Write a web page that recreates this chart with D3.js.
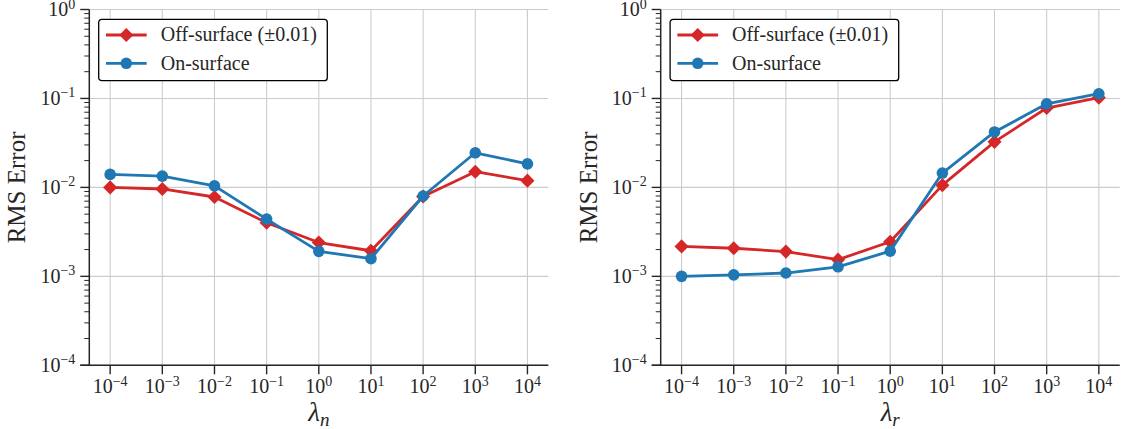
<!DOCTYPE html>
<html>
<head>
<meta charset="utf-8">
<script src="https://cdn.jsdelivr.net/npm/d3@7"></script>
<style>
  body { margin: 0; background: #fff; }
  svg text { font-family: "Liberation Serif", "DejaVu Serif", serif; fill: #262626; }
</style>
</head>
<body>
<svg id="chart" width="1122" height="429"></svg>
<script>
// exponents of lambda (x axis is log10 lambda)
var exponents = [-4, -3, -2, -1, 0, 1, 2, 3, 4];

// left panel: lambda_n
var offN = [0.0100, 0.0096, 0.0078, 0.0040, 0.0024, 0.00194, 0.0079, 0.0150, 0.0119];
var onN  = [0.0140, 0.0134, 0.0104, 0.0044, 0.00191, 0.00158, 0.0080, 0.0245, 0.0184];

// right panel: lambda_r
var offR = [0.00217, 0.00207, 0.00190, 0.00154, 0.00245, 0.0106, 0.0325, 0.078, 0.102];
var onR  = [0.00100, 0.00104, 0.00109, 0.00128, 0.00192, 0.0145, 0.0420, 0.087, 0.113];

var yTickExps = [-4, -3, -2, -1, 0];
var seriesNames = ["Off-surface (\u00b10.01)", "On-surface"];
var red = "#d62728", blue = "#1f77b4", ink = "#262626";

var svg = d3.select("#chart");

var panels = [
  {left: 89.3, sub: "n", off: offN, on: onN},
  {left: 660.7, sub: "r", off: offR, on: onR}
];

var plotW = 459, plotTop = 9.5, plotBottom = 365.3;
var diamond = "M-5,-5L5,-5L5,5L-5,5Z";

function supLabel(sel) {
  sel.append("tspan").text("10");
  sel.append("tspan").attr("dy", -7.5).attr("font-size", 14)
      .text(function(d) { return d < 0 ? "\u2212" + (-d) : String(d); });
}

panels.forEach(function(p) {
  var g = svg.append("g").attr("transform", "translate(" + p.left + ",0)");

  var x = d3.scaleLinear().domain([-4.4, 4.4]).range([0, plotW]);
  var y = d3.scaleLog().domain([1e-4, 1]).range([plotBottom, plotTop]);

  // grid
  g.selectAll(".vgrid").data(exponents).enter().append("line")
      .attr("x1", function(d) { return x(d); }).attr("x2", function(d) { return x(d); })
      .attr("y1", plotTop).attr("y2", plotBottom)
      .attr("stroke", "#cccccc").attr("stroke-width", 1.1);
  g.selectAll(".hgrid").data(yTickExps).enter().append("line")
      .attr("x1", 0).attr("x2", plotW)
      .attr("y1", function(d) { return y(Math.pow(10, d)); })
      .attr("y2", function(d) { return y(Math.pow(10, d)); })
      .attr("stroke", "#cccccc").attr("stroke-width", 1.1);

  // minor y ticks
  var minor = [];
  for (var e = -4; e < 0; e++) for (var k = 2; k < 10; k++) minor.push(k * Math.pow(10, e));
  g.selectAll(".minor").data(minor).enter().append("line")
      .attr("x1", -5).attr("x2", 0)
      .attr("y1", function(d) { return y(d); }).attr("y2", function(d) { return y(d); })
      .attr("stroke", ink).attr("stroke-width", 1);

  // major y ticks + labels
  g.selectAll(".ymaj").data(yTickExps).enter().append("line")
      .attr("x1", -9).attr("x2", 0)
      .attr("y1", function(d) { return y(Math.pow(10, d)); })
      .attr("y2", function(d) { return y(Math.pow(10, d)); })
      .attr("stroke", ink).attr("stroke-width", 1.4);
  g.selectAll(".ylab").data(yTickExps).enter().append("text")
      .attr("x", -14)
      .attr("y", function(d) { return y(Math.pow(10, d)) + 6.5; })
      .attr("text-anchor", "end")
      .attr("font-size", 20)
      .call(supLabel);

  // x ticks + labels
  g.selectAll(".xmaj").data(exponents).enter().append("line")
      .attr("x1", function(d) { return x(d); }).attr("x2", function(d) { return x(d); })
      .attr("y1", plotBottom).attr("y2", plotBottom + 9)
      .attr("stroke", ink).attr("stroke-width", 1.4);
  g.selectAll(".xlab").data(exponents).enter().append("text")
      .attr("x", function(d) { return x(d); })
      .attr("y", 393)
      .attr("text-anchor", "middle")
      .attr("font-size", 20)
      .call(supLabel);

  // spines
  g.append("line").attr("x1", 0).attr("x2", 0).attr("y1", plotTop).attr("y2", plotBottom)
      .attr("stroke", ink).attr("stroke-width", 1.5);
  g.append("line").attr("x1", -9).attr("x2", plotW).attr("y1", plotBottom).attr("y2", plotBottom)
      .attr("stroke", ink).attr("stroke-width", 1.5);

  // axis titles
  g.append("text")
      .attr("transform", "translate(-64," + ((plotTop + plotBottom) / 2) + ") rotate(-90)")
      .attr("text-anchor", "middle")
      .attr("font-size", 25)
      .text("RMS Error");
  var xt = g.append("text")
      .attr("x", plotW / 2).attr("y", 421)
      .attr("text-anchor", "middle")
      .attr("font-size", 27).attr("font-style", "italic");
  xt.append("tspan").text("\u03bb");
  xt.append("tspan").attr("dy", 5).attr("font-size", 19).text(p.sub);

  // series
  var line = d3.line()
      .x(function(d, i) { return x(exponents[i]); })
      .y(function(d) { return y(d); });

  g.append("path").datum(p.off).attr("d", line)
      .attr("fill", "none").attr("stroke", red).attr("stroke-width", 2.8)
      .attr("stroke-linejoin", "round");
  g.selectAll(".offpt").data(p.off).enter().append("path")
      .attr("transform", function(d, i) { return "translate(" + x(exponents[i]) + "," + y(d) + ") rotate(45)"; })
      .attr("d", diamond)
      .attr("fill", red);

  g.append("path").datum(p.on).attr("d", line)
      .attr("fill", "none").attr("stroke", blue).attr("stroke-width", 2.8)
      .attr("stroke-linejoin", "round");
  g.selectAll(".onpt").data(p.on).enter().append("circle")
      .attr("cx", function(d, i) { return x(exponents[i]); })
      .attr("cy", function(d) { return y(d); })
      .attr("r", 5.8)
      .attr("fill", blue);

  // legend
  var lg = g.append("g").attr("transform", "translate(9.4,19.3)");
  lg.append("rect").attr("width", 228.6).attr("height", 61.4)
      .attr("rx", 3).attr("fill", "#fff").attr("stroke", "#000").attr("stroke-width", 1.3);
  [red, blue].forEach(function(c, i) {
    var cy = 15.7 + i * 28.3;
    lg.append("line").attr("x1", 7.3).attr("x2", 48).attr("y1", cy).attr("y2", cy)
        .attr("stroke", c).attr("stroke-width", 2.8);
    if (i === 0) {
      lg.append("path").attr("transform", "translate(27.6," + cy + ") rotate(45)")
          .attr("d", diamond).attr("fill", c);
    } else {
      lg.append("circle").attr("cx", 27.6).attr("cy", cy).attr("r", 5.8).attr("fill", c);
    }
    lg.append("text").attr("x", 62).attr("y", cy + 6.5)
        .attr("font-size", 20).text(seriesNames[i]);
  });
});
</script>
</body>
</html>
